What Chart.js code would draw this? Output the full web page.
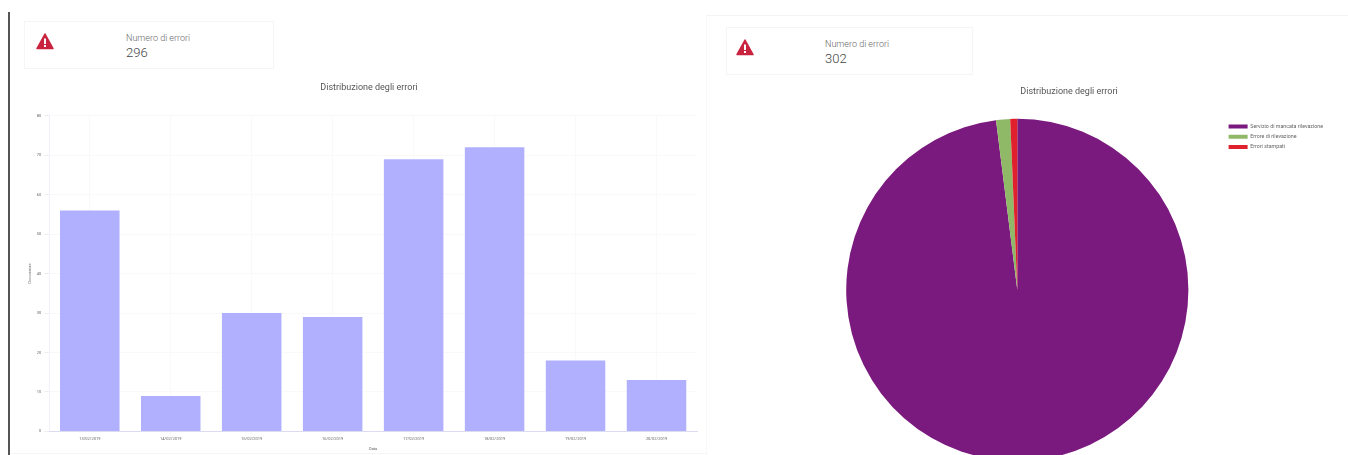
<!DOCTYPE html>
<html>
<head>
<meta charset="utf-8">
<script src="https://cdn.jsdelivr.net/npm/chart.js@4/dist/chart.umd.min.js"></script>
<style>
  html, body { margin: 0; padding: 0; background: #fff; overflow: hidden; width: 1348px; height: 455px; font-family: Roboto, sans-serif; color: #555; }
  .box { position: absolute; }
  .card { border: 1px solid #f5f5f5; box-sizing: border-box; }
  .card .lbl { position: absolute; left: 101px; top: 11px; font-size: 9px; font-weight: 300; color: #666; white-space: nowrap; }
  .card .num { position: absolute; left: 101px; top: 23px; font-size: 13px; font-weight: 300; color: #444; white-space: nowrap; }
  .card svg { position: absolute; left: 11px; top: 11px; }
</style>
</head>
<body>
<div class="box" style="left:8px;top:12px;width:2px;height:443px;background:#555"></div>
<div class="box" style="left:706px;top:15px;width:642px;height:1px;background:#f4f4f4"></div>
<div class="box" style="left:706px;top:15px;width:1px;height:440px;background:#f8f8f8"></div>
<div class="box" style="left:10px;top:453px;width:696px;height:1px;background:#f6f6f6"></div>

<div class="box card" style="left:24px;top:21px;width:250px;height:48px">
  <svg width="18" height="17" viewBox="0 0 18 17"><path d="M9 1 L17 15.5 L1 15.5 Z" fill="#c9243f" stroke="#c9243f" stroke-width="1.5" stroke-linejoin="round"/><rect x="8" y="5.5" width="2" height="5.5" fill="#fff"/><rect x="8" y="12" width="2" height="2" fill="#fff"/></svg>
  <div class="lbl">Numero di errori</div>
  <div class="num">296</div>
</div>
<div class="box card" style="left:726px;top:27px;width:247px;height:48px">
  <svg style="left:9px" width="18" height="17" viewBox="0 0 18 17"><path d="M9 1 L17 15.5 L1 15.5 Z" fill="#c9243f" stroke="#c9243f" stroke-width="1.5" stroke-linejoin="round"/><rect x="8" y="5.5" width="2" height="5.5" fill="#fff"/><rect x="8" y="12" width="2" height="2" fill="#fff"/></svg>
  <div class="lbl" style="left:98px">Numero di errori</div>
  <div class="num" style="left:98px">302</div>
</div>

<div class="box" style="left:24px;top:78px;width:690px;height:377px"><canvas id="barChart"></canvas></div>
<div class="box" style="left:811px;top:82px;width:537px;height:379px"><canvas id="pieChart"></canvas></div>

<script>
const dateLabels = ['13/02/2019', '14/02/2019', '15/02/2019', '16/02/2019', '17/02/2019', '18/02/2019', '19/02/2019', '20/02/2019'];
const errorCounts = [56, 9, 30, 29, 69, 72, 18, 13];

const errorTypes = ['Servizio di mancata rilevazione', 'Errore di rilevazione', 'Errori stampati'];
const typeCounts = [296, 4, 2];
const typeColors = ['#7b1a7e', '#8fb867', '#e0202c'];

Chart.defaults.font.family = 'Roboto, sans-serif';
Chart.defaults.color = '#666';
Chart.defaults.animation = false;

// the titles sit a little off the plot centre in the original
function shiftTitle(dx) {
  return {
    id: 'shiftTitle',
    beforeDraw(chart) {
      chart.titleBlock.left += 2 * dx;
      chart.titleBlock.right += 0;
    },
    afterDraw(chart) {
      chart.titleBlock.left -= 2 * dx;
    }
  };
}

new Chart(document.getElementById('barChart'), {
  type: 'bar',
  data: {
    labels: dateLabels,
    datasets: [{
      label: 'Errori',
      data: errorCounts,
      backgroundColor: '#b0b0ff',
      categoryPercentage: 1,
      barPercentage: 0.735
    }]
  },
  options: {
    responsive: true,
    maintainAspectRatio: false,
    layout: { padding: { left: 3, right: 17, top: 0, bottom: 1 } },
    plugins: {
      legend: { display: false },
      title: {
        display: true,
        text: 'Distribuzione degli errori',
        color: '#555',
        font: { size: 9, weight: 'normal' },
        padding: { top: 4, bottom: 23 }
      }
    },
    scales: {
      y: {
        min: 0,
        max: 80,
        ticks: { stepSize: 10, font: { size: 4 }, padding: 3 },
        title: { display: true, text: 'Occorrenze', font: { size: 4 }, padding: 1 },
        grid: { color: '#f9f9f9', tickColor: '#eeeeee', tickLength: 5 },
        border: { color: '#f0f0fa' }
      },
      x: {
        ticks: { font: { size: 4 }, padding: 2, maxRotation: 0 },
        title: { display: true, text: 'Data', font: { size: 4 }, padding: 3 },
        grid: { offset: false, color: '#f9f9f9', tickLength: 3 },
        border: { color: '#dcdcf0' }
      }
    }
  },
  plugins: [shiftTitle(7)]
});

new Chart(document.getElementById('pieChart'), {
  type: 'pie',
  data: {
    labels: errorTypes,
    datasets: [{
      data: typeCounts,
      backgroundColor: typeColors,
      borderWidth: 0
    }]
  },
  options: {
    responsive: true,
    maintainAspectRatio: false,
    layout: { padding: { right: 15 } },
    plugins: {
      title: {
        display: true,
        text: 'Distribuzione degli errori',
        color: '#555',
        font: { size: 9, weight: 'normal' },
        padding: { top: 4, bottom: 22 }
      },
      legend: {
        position: 'right',
        align: 'start',
        fullSize: false,
        labels: { boxWidth: 19, boxHeight: 4, padding: 5, font: { size: 5.3 } }
      }
    }
  },
  plugins: [shiftTitle(-3)]
});
</script>
</body>
</html>
